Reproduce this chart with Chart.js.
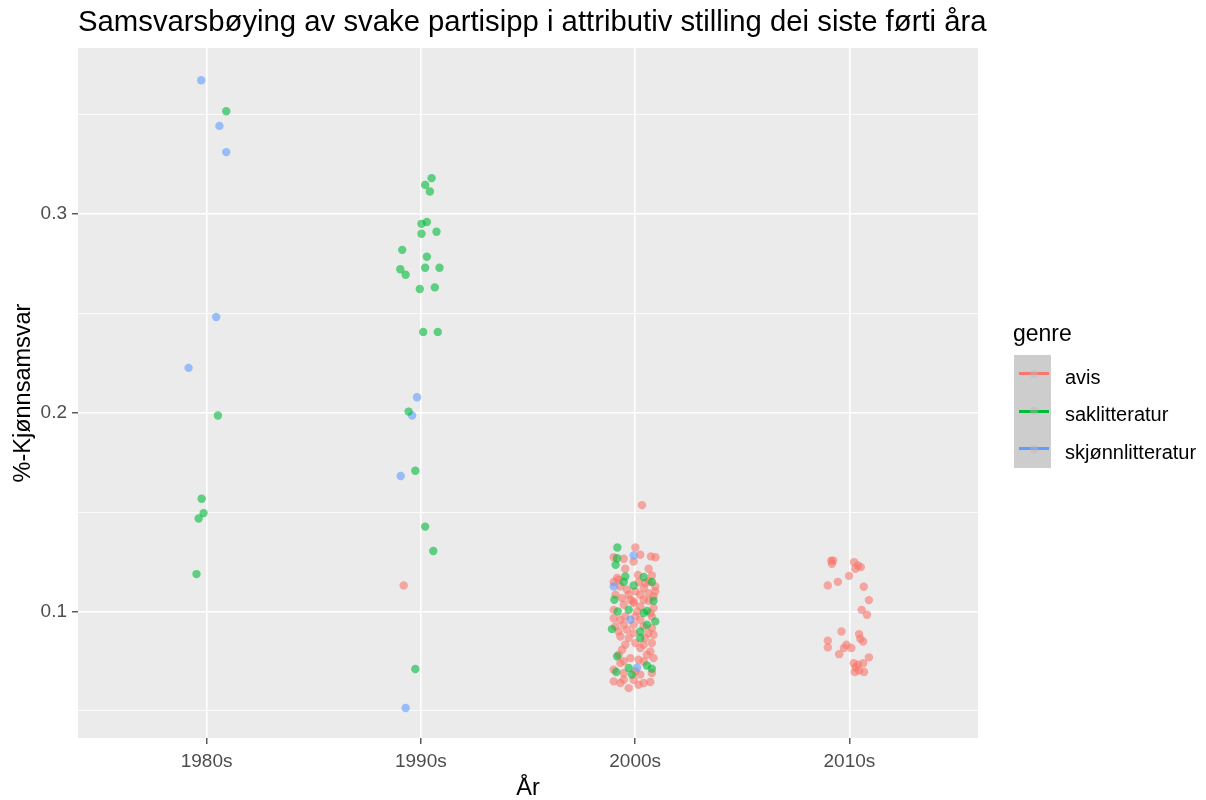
<!DOCTYPE html>
<html>
<head>
<meta charset="utf-8">
<script src="https://cdn.jsdelivr.net/npm/chart.js@4.4.1/dist/chart.umd.min.js"></script>
<style>
  body { margin: 0; background: #fff; font-family: "Liberation Sans", Arial, sans-serif; }
  #wrap { position: relative; width: 1206px; height: 800px; }
  #tittel { position: absolute; left: 78px; top: 6px; font-size: 29.3px; line-height: 1; color: #000; white-space: nowrap; }
  .txt { position: absolute; line-height: 1; white-space: nowrap; color: #000; }
  .boks { position: absolute; }
</style>
</head>
<body>
<div id="wrap">
  <canvas id="plott" width="1206" height="800"></canvas>
  <div id="tittel">Samsvarsbøying av svake partisipp i attributiv stilling dei siste førti åra</div>
  <div id="forklaring"></div>
</div>
<script>
// kategoriar og aksar
const decades = ["1980s", "1990s", "2000s", "2010s"];
const genres = ["avis", "saklitteratur", "skjønnlitteratur"];
const farger = ["#F8766D", "#00BA38", "#619CFF"];
const yTicks = [0.05, 0.1, 0.15, 0.2, 0.25, 0.3, 0.35];
const yTickLabels = ["", "0.1", "", "0.2", "", "0.3", ""];

// punkt: [x (tiår + jitter), kjønnsamsvar]
const avis = [
  [1.920, 0.1131],
  [3.032, 0.1535], [3.001, 0.1322], [2.900, 0.1273], [2.947, 0.1265], [3.024, 0.1285],
  [3.074, 0.1277], [3.095, 0.1273], [2.993, 0.1251], [2.954, 0.1215], [3.063, 0.1215],
  [2.923, 0.1159], [3.013, 0.1184], [3.078, 0.1181], [3.063, 0.1151], [2.931, 0.1126],
  [3.040, 0.1117], [3.094, 0.1101], [2.908, 0.1084], [2.970, 0.1084], [3.024, 0.1084],
  [2.978, 0.1059], [3.040, 0.1059], [2.939, 0.1067], [2.916, 0.1168], [2.900, 0.1148],
  [3.016, 0.1148], [3.047, 0.1142], [3.094, 0.1126], [2.962, 0.1109], [3.001, 0.1101],
  [3.063, 0.1092], [3.086, 0.1075], [2.993, 0.1050], [3.063, 0.1054],
  [2.947, 0.1034], [2.993, 0.1042], [3.024, 0.1025], [3.086, 0.1017], [2.900, 0.1008],
  [3.009, 0.1000], [3.071, 0.0992], [2.900, 0.0966], [2.931, 0.0958], [2.954, 0.0975],
  [3.001, 0.0975], [3.024, 0.0958], [3.078, 0.0975], [2.908, 0.0925], [2.947, 0.0933],
  [2.993, 0.0933], [3.040, 0.0925], [3.078, 0.0916], [2.923, 0.0899], [2.962, 0.0908],
  [2.993, 0.0891], [3.063, 0.0891], [2.931, 0.0874], [2.970, 0.0866], [3.047, 0.0866],
  [3.086, 0.0883], [2.954, 0.0832], [3.001, 0.0841], [3.040, 0.0832], [3.078, 0.0841],
  [2.939, 0.0807], [3.024, 0.0816], [3.071, 0.0799], [2.923, 0.0782], [2.978, 0.0765],
  [3.055, 0.0782], [3.086, 0.0765], [3.016, 0.0757], [2.947, 0.0749], [2.931, 0.0740],
  [3.040, 0.0749], [3.001, 0.0698], [2.947, 0.0690], [3.024, 0.0682], [3.078, 0.0690],
  [2.900, 0.0707], [2.900, 0.0648], [2.947, 0.0656], [2.993, 0.0656], [3.040, 0.0640],
  [3.071, 0.0645], [2.970, 0.0614], [3.016, 0.0631], [2.931, 0.0640],
  [3.915, 0.1256], [3.924, 0.1256], [3.918, 0.1240], [4.022, 0.1248], [4.028, 0.1215],
  [4.053, 0.1223], [4.040, 0.1231], [3.998, 0.1179], [3.899, 0.1131], [3.946, 0.1149],
  [4.067, 0.1124], [4.091, 0.1057], [4.057, 0.1008], [4.082, 0.0983], [3.963, 0.0899],
  [4.045, 0.0886], [4.051, 0.0863], [4.064, 0.0849], [3.899, 0.0853], [3.899, 0.0819],
  [3.986, 0.0832], [3.974, 0.0816], [4.009, 0.0816], [3.952, 0.0785], [4.091, 0.0769],
  [4.020, 0.0739], [4.040, 0.0732], [4.064, 0.0739], [4.029, 0.0718], [4.025, 0.0695],
  [4.068, 0.0695], [4.045, 0.0702]
];
const saklitteratur = [
  [1.092, 0.3518], [1.053, 0.1986], [0.977, 0.1567], [0.986, 0.1495], [0.963, 0.1468], [0.953, 0.1188],
  [2.050, 0.3181], [2.020, 0.3147], [2.042, 0.3114], [2.028, 0.2960], [2.003, 0.2951], [2.073, 0.2911],
  [2.003, 0.2901], [1.913, 0.2820], [2.028, 0.2785], [1.904, 0.2722], [2.020, 0.2730], [2.087, 0.2730],
  [1.929, 0.2695], [1.995, 0.2623], [2.065, 0.2631], [2.011, 0.2407], [2.079, 0.2407], [1.943, 0.2006],
  [1.974, 0.1708], [2.020, 0.1427], [2.058, 0.1304], [1.974, 0.0710],
  [2.917, 0.1322], [2.916, 0.1268], [2.909, 0.1235], [2.954, 0.1176], [3.040, 0.1173], [2.947, 0.1148],
  [2.993, 0.1131], [3.078, 0.1148], [2.903, 0.1059], [3.086, 0.1054], [2.919, 0.1000], [2.970, 0.1008],
  [3.055, 0.1003], [3.040, 0.0992], [3.094, 0.0950], [3.055, 0.0933], [2.892, 0.0911], [3.024, 0.0899],
  [3.024, 0.0866], [2.916, 0.0774], [2.912, 0.0695], [2.970, 0.0715], [3.055, 0.0728], [3.078, 0.0712],
  [2.985, 0.0682]
];
const skjonnlitteratur = [
  [0.975, 0.3674], [1.060, 0.3444], [1.092, 0.3312], [1.045, 0.2482], [0.916, 0.2226],
  [1.982, 0.2078], [1.959, 0.1986], [1.906, 0.1682], [1.929, 0.0514],
  [2.993, 0.1282], [2.900, 0.1126], [2.978, 0.0958], [3.009, 0.0718]
];

Chart.defaults.font.family = '"Liberation Sans", Arial, sans-serif';

function alfa(hex, a) {
  const n = parseInt(hex.slice(1), 16);
  return "rgba(" + (n >> 16) + "," + ((n >> 8) & 255) + "," + (n & 255) + "," + a + ")";
}

function erHovud(v) {
  return Math.abs(v * 10 - Math.round(v * 10)) < 1e-6;
}

const panelBakgrunn = {
  id: "panelBakgrunn",
  beforeDraw(chart) {
    const { ctx, chartArea: a } = chart;
    ctx.save();
    ctx.fillStyle = "#EBEBEB";
    ctx.fillRect(a.left, a.top, a.right - a.left, a.bottom - a.top);
    ctx.restore();
  }
};

const serier = [avis, saklitteratur, skjonnlitteratur];
const datasett = serier.map((s, i) => ({
  label: genres[i],
  data: s.map(p => ({ x: p[0], y: p[1] })),
  backgroundColor: alfa(farger[i], 0.6),
  borderWidth: 0,
  pointRadius: 4.2,
  order: [3, 1, 2][i]
}));

new Chart(document.getElementById("plott"), {
  type: "scatter",
  data: { datasets: datasett },
  options: {
    responsive: false,
    animation: false,
    layout: { padding: { top: 48, right: 228, bottom: 0, left: 0 } },
    plugins: { legend: { display: false }, tooltip: { enabled: false } },
    scales: {
      x: {
        type: "linear",
        min: 0.4,
        max: 4.6,
        afterBuildTicks: s => { s.ticks = decades.map((d, i) => ({ value: i + 1 })); },
        afterFit: s => { s.height = 62; },
        ticks: {
          callback: v => decades[Math.round(v) - 1],
          color: "#4D4D4D",
          font: { size: 19 },
          padding: 6,
          maxRotation: 0
        },
        grid: { color: "#FFFFFF", lineWidth: 1.6, tickLength: 6, tickColor: "#333333", tickWidth: 1.2 },
        border: { display: false },
        title: { display: true, text: "År", color: "#000", font: { size: 23.5 }, padding: { top: 0, bottom: -3 } }
      },
      y: {
        type: "linear",
        min: 0.0363,
        max: 0.3836,
        afterBuildTicks: s => { s.ticks = yTicks.map(v => ({ value: v })); },
        afterFit: s => { s.width = 78; },
        ticks: {
          callback: (v, i) => yTickLabels[i],
          color: "#4D4D4D",
          font: { size: 19 },
          padding: 5
        },
        grid: {
          color: "#FFFFFF",
          lineWidth: c => erHovud(c.tick.value) ? 1.6 : 0.8,
          tickLength: 6,
          tickColor: c => erHovud(c.tick.value) ? "#333333" : "rgba(0,0,0,0)",
          tickWidth: 1.2
        },
        border: { display: false },
        title: { display: true, text: "%-Kjønnsamsvar", color: "#000", font: { size: 23.5 }, padding: { top: 9, bottom: 0 } }
      }
    }
  },
  plugins: [panelBakgrunn]
});

// forklaring (legend) som i ggplot
const fk = document.getElementById("forklaring");
fk.innerHTML += '<div class="txt" style="left:1013px;top:322px;font-size:23px">genre</div>';
fk.innerHTML += '<div class="boks" style="left:1014px;top:355px;width:37px;height:113px;background:#CDCDCD"></div>';
genres.forEach((g, i) => {
  const midt = 373.8 + i * 37.5;
  fk.innerHTML += '<div class="boks" style="left:1019px;top:' + (midt - 1.5) + 'px;width:30px;height:3px;background:' + farger[i] + '"></div>';
  fk.innerHTML += '<div class="boks" style="left:1029.5px;top:' + (midt - 4) + 'px;width:8px;height:8px;border-radius:50%;background:' + alfa("#BBBBBB", 0.45) + '"></div>';
  fk.innerHTML += '<div class="txt" style="left:1065px;top:' + (midt - 7) + 'px;font-size:20px">' + g + '</div>';
});
</script>
</body>
</html>
